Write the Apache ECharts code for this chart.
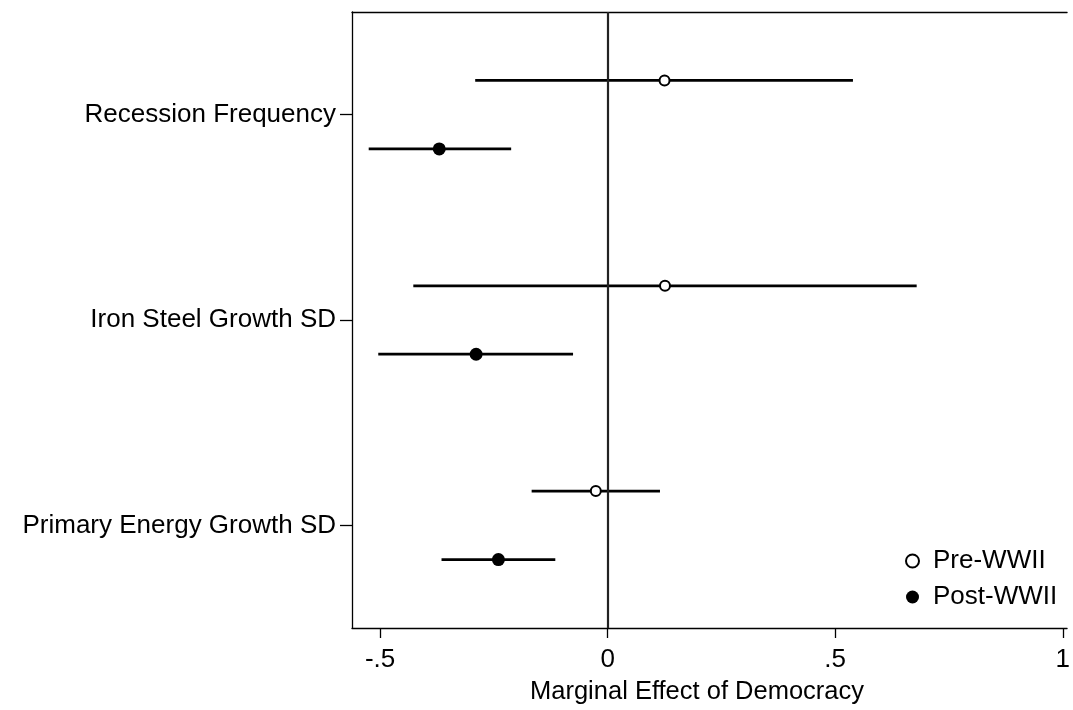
<!DOCTYPE html>
<html>
<head>
<meta charset="utf-8">
<script src="https://cdn.jsdelivr.net/npm/echarts@6/dist/echarts.min.js"></script>
<style>
html,body{margin:0;padding:0;background:#fff;overflow:hidden;}
#chart{width:1073px;height:710px;}
</style>
</head>
<body>
<div id="chart"></div>
<script>
// ---- Data ----
var categories = ['Recession Frequency', 'Iron Steel Growth SD', 'Primary Energy Growth SD'];
var categoryPos = [3, 2, 1];
var preEst = [0.125, 0.126, -0.026];
var preLo  = [-0.291, -0.427, -0.167];
var preHi  = [0.539, 0.679, 0.115];
var postEst = [-0.370, -0.289, -0.240];
var postLo  = [-0.525, -0.504, -0.365];
var postHi  = [-0.212, -0.076, -0.115];
var xTickValues = [-0.5, 0, 0.5, 1];
var xTickLabels = ['-.5', '0', '.5', '1'];
var seriesNames = ['Pre-WWII', 'Post-WWII'];
var xTitle = 'Marginal Effect of Democracy';

// ---- Layout constants ----
var OFFSET = 1 / 6;
var FONT = '"Liberation Sans", Arial, sans-serif';
var FS = 26;

function ciData(lo, hi, off) {
  return categoryPos.map(function (p, i) { return [p + off, lo[i], hi[i]]; });
}
function ptData(est, off) {
  return categoryPos.map(function (p, i) { return [est[i], p + off]; });
}
function renderCI(params, api) {
  var y = api.value(0);
  var a = api.coord([api.value(1), y]);
  var b = api.coord([api.value(2), y]);
  return {
    type: 'line',
    shape: { x1: a[0], y1: a[1], x2: b[0], y2: b[1] },
    style: { stroke: '#000', lineWidth: 2.8 }
  };
}

var chart = echarts.init(document.getElementById('chart'), null, { renderer: 'canvas' });
chart.setOption({
  backgroundColor: '#fff',
  animation: false,
  title: {
    text: xTitle,
    left: 692, top: 674,
    textAlign: 'center',
    textStyle: { fontFamily: FONT, fontSize: 25.5, fontWeight: 'normal', color: '#000' }
  },
  grid: { left: 352, right: 0, top: 12, bottom: 82, containLabel: false },
  xAxis: [{
    type: 'value',
    min: -0.5617, max: 1.0094,
    position: 'bottom',
    axisLine: { show: true, onZero: false, lineStyle: { color: '#000', width: 1.3 } },
    axisTick: { show: true, length: 10, customValues: xTickValues, lineStyle: { color: '#000', width: 1.3 } },
    axisLabel: {
      show: true, margin: 19, customValues: xTickValues,
      fontFamily: FONT, fontSize: FS, color: '#000',
      formatter: function (v) { var i = xTickValues.indexOf(v); return i >= 0 ? xTickLabels[i] : ''; }
    },
    splitLine: { show: false }
  }, {
    type: 'value',
    min: -0.5617, max: 1.0094,
    position: 'top',
    axisLine: { show: true, onZero: false, lineStyle: { color: '#000', width: 1.3 } },
    axisTick: { show: false },
    axisLabel: { show: false },
    splitLine: { show: false }
  }],
  yAxis: {
    type: 'value',
    min: 0.5, max: 3.5,
    axisLine: { show: true, onZero: false, lineStyle: { color: '#000', width: 1.3 } },
    axisTick: { show: true, length: 12, customValues: categoryPos, lineStyle: { color: '#000', width: 1.3 } },
    axisLabel: {
      show: true, margin: 16, customValues: categoryPos,
      fontFamily: FONT, fontSize: FS, color: '#000',
      formatter: function (v) { var i = categoryPos.indexOf(v); return i >= 0 ? categories[i] : ''; }
    },
    splitLine: { show: false }
  },
  legend: {
    data: seriesNames,
    orient: 'vertical',
    left: 900, top: 543,
    itemWidth: 13, itemHeight: 13,
    itemGap: 10,
    icon: 'circle',
    textStyle: { fontFamily: FONT, fontSize: FS, color: '#000', lineHeight: 26, padding: [0, 0, 0, 9] }
  },
  series: [{
    name: 'Pre CI',
    type: 'custom',
    renderItem: renderCI,
    data: ciData(preLo, preHi, OFFSET),
    encode: { x: [1, 2], y: 0 },
    z: 2,
    markLine: {
      silent: true, symbol: 'none', label: { show: false },
      lineStyle: { color: '#222', width: 2.2, type: 'solid' },
      data: [{ xAxis: 0 }]
    }
  }, {
    name: 'Post CI',
    type: 'custom',
    renderItem: renderCI,
    data: ciData(postLo, postHi, -OFFSET),
    encode: { x: [1, 2], y: 0 },
    z: 2
  }, {
    name: seriesNames[0],
    type: 'scatter',
    symbol: 'circle',
    symbolSize: 10,
    itemStyle: { color: '#fff', borderColor: '#000', borderWidth: 2, opacity: 1 },
    data: ptData(preEst, OFFSET),
    z: 5
  }, {
    name: seriesNames[1],
    type: 'scatter',
    symbol: 'circle',
    symbolSize: 13,
    itemStyle: { color: '#000', opacity: 1 },
    data: ptData(postEst, -OFFSET),
    z: 5
  }]
});
</script>
</body>
</html>
